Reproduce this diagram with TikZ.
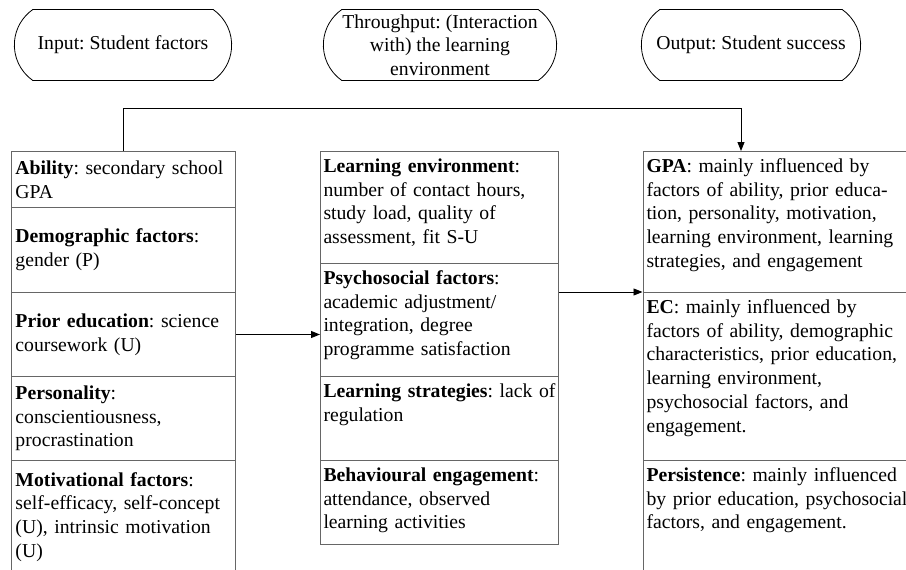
\documentclass[tikz,border=0pt]{standalone}
\usepackage{fontspec}
\setmainfont{Liberation Serif}
\usepackage{tikz}
\usetikzlibrary{arrows.meta,shapes.misc}

\begin{document}
\begin{tikzpicture}[x=1pt,y=-1pt,font=\fontsize{19.7pt}{23.7pt}\selectfont\frenchspacing]
\tikzstyle{oval}=[rounded rectangle,rounded rectangle arc length=110,draw,line width=0.8pt,minimum width=224pt,minimum height=71pt,inner ysep=0pt,align=center]
\tikzstyle{cell}=[draw=black!60,line width=1pt,anchor=north west,inner ysep=0pt,align=left]
\tikzstyle{leftrow}=[cell,text width=216pt,inner xsep=4pt]
\tikzstyle{midrow}=[cell,text width=232pt,inner xsep=3pt,text height=21pt]
\tikzstyle{rightrow}=[cell,text width=263pt,inner xsep=3.5pt,text height=21pt]
\tikzstyle{flow}=[line width=0.9pt,-{Triangle[length=9pt,width=7pt]}]
\useasboundingbox (0,0) rectangle (906,570);
\clip (0,0) rectangle (906,570);
% headers
\node[oval] (input) at (123,45) {Input: Student factors};
\node[oval,minimum width=240pt] (through) at (440,45) {Throughput: (Interaction\\with) the learning\\environment};
\node[oval,minimum width=226pt] (output) at (751,45) {Output: Student success};
% input column
\node[leftrow,minimum height=56pt] (abil) at (11,151) {\textbf{Ability}: secondary school\\GPA};
\node[leftrow,minimum height=85pt] (demo) at (11,207) {\textbf{Demographic factors}:\\gender (P)};
\node[leftrow,minimum height=84pt] (prior) at (11,292) {\textbf{Prior education}: science\\coursework (U)};
\node[leftrow,minimum height=84pt] (pers) at (11,376) {\textbf{Personality}:\\conscientiousness,\\procrastination};
\node[leftrow,minimum height=113pt] (motiv) at (11,460) {\textbf{Motivational factors}:\\self-efficacy, self-concept\\(U), intrinsic motivation\\(U)};
% throughput column
\node[midrow,text depth=91pt] (lenv) at (320,151) {\textbf{Learning environment}:\\number of contact hours,\\study load, quality of\\assessment, fit S-U};
\node[midrow,text depth=92pt] (psych) at (320,263) {\textbf{Psychosocial factors}:\\academic adjustment/\\integration, degree\\programme satisfaction};
\node[midrow,text depth=63pt] (strat) at (320,376) {\textbf{Learning strategies}: lack of\\regulation};
\node[midrow,text depth=63pt] (engag) at (320,460) {\textbf{Behavioural engagement}:\\attendance, observed\\learning activities};
% output column
\node[rightrow,text depth=120pt] (gpa) at (642.5,151) {\textbf{GPA}: mainly influenced by\\factors of ability, prior educa-\\tion, personality, motivation,\\learning environment, learning\\strategies, and engagement};
\node[rightrow,text depth=147pt] (ec) at (642.5,292) {\textbf{EC}: mainly influenced by\\factors of ability, demographic\\characteristics, prior education,\\learning environment,\\psychosocial factors, and\\engagement.};
\node[rightrow,text depth=119pt] (persist) at (642.5,460) {\textbf{Persistence}: mainly influenced\\by prior education, psychosocial\\factors, and engagement.};
% arrows
\coordinate (bend) at (741,108);
\draw[flow] (abil.north) |- (bend) -- (bend |- gpa.north);
\draw[flow] (prior.east) -- (prior.east -| psych.west);
\draw[flow] (psych.east |- ec.north west) -- (ec.north west);
\end{tikzpicture}
\end{document}
